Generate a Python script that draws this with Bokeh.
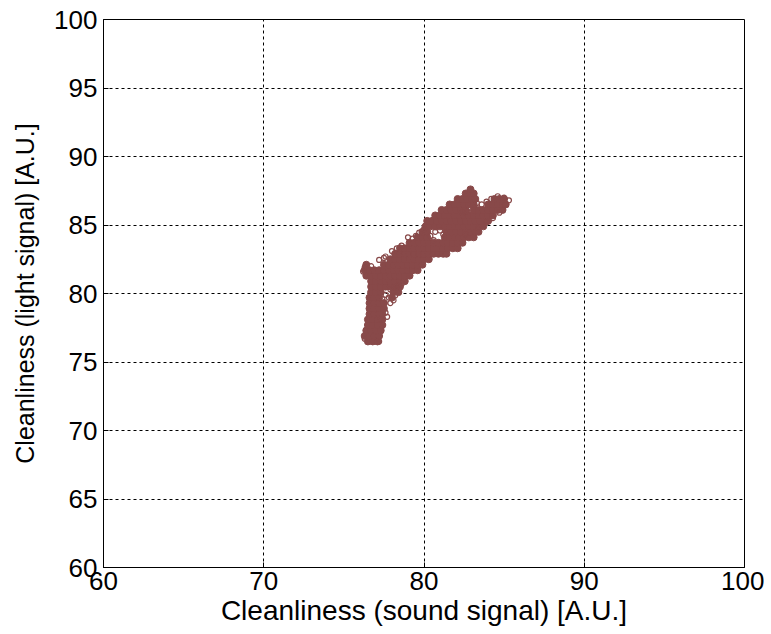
from bokeh.plotting import figure
from bokeh.models import Range1d, FixedTicker
from bokeh.embed import file_html
from bokeh.resources import INLINE

# ---- data ----
x_ticks = [60, 70, 80, 90, 100]
y_ticks = [60, 65, 70, 75, 80, 85, 90, 95, 100]

# dense core of the cloud, row by row (y value, x values)
core_row_y = [76.5, 76.9, 77.3, 77.7, 78.1, 78.5, 78.9, 79.3, 79.7, 80.1,
              80.5, 80.9, 81.3, 81.7, 82.1, 82.5, 82.9, 83.3, 83.7, 84.1,
              84.5, 84.9, 85.3, 85.7, 86.1, 86.5, 86.9, 87.3, 87.6]
core_row_x = [
    [76.5, 76.8, 77.1],
    [76.3, 76.6, 76.9, 77.2],
    [76.4, 76.7, 77.0, 77.3],
    [76.5, 76.8, 77.1, 77.4],
    [76.5, 76.8, 77.1, 77.4],
    [76.6, 76.9, 77.2, 77.4],
    [76.6, 76.9, 77.2, 77.5],
    [76.6, 76.9, 77.2, 77.5],
    [76.6, 76.9, 77.2, 78.0],
    [76.7, 77.0, 77.3, 78.1, 78.4],
    [76.7, 77.0, 77.3, 77.6, 77.9, 78.2, 78.5],
    [76.7, 77.0, 77.3, 77.6, 77.9, 78.2, 78.5, 78.8],
    [76.4, 76.7, 77.0, 77.3, 77.6, 77.9, 78.2, 78.5, 78.8, 79.1],
    [76.3, 76.6, 76.9, 77.2, 77.5, 77.8, 78.1, 78.4, 78.7, 79.0, 79.3, 79.6],
    [76.4, 77.5, 77.8, 78.1, 78.4, 78.7, 79.0, 79.3, 79.6, 79.9],
    [77.9, 78.2, 78.5, 78.8, 79.1, 79.4, 79.7, 80.0, 80.3],
    [78.2, 78.5, 78.8, 79.1, 79.4, 79.7, 80.0, 80.3, 80.6, 80.9, 81.2, 81.4],
    [78.5, 78.8, 79.1, 79.4, 79.7, 80.0, 80.3, 80.6, 80.9, 81.2, 81.5, 81.8, 82.1],
    [79.1, 79.4, 79.7, 80.0, 80.3, 80.6, 80.9, 81.2, 81.5, 81.8, 82.1, 82.4],
    [79.6, 79.9, 80.2, 81.3, 81.6, 81.9, 82.2, 82.5, 82.8, 83.1],
    [79.9, 80.2, 81.4, 81.7, 82.0, 82.3, 82.6, 82.9, 83.2, 83.4],
    [80.1, 80.4, 80.7, 81.0, 81.3, 81.6, 81.9, 82.2, 82.5, 82.8, 83.1, 83.4, 83.7],
    [80.2, 80.5, 80.8, 81.1, 81.4, 81.7, 82.0, 82.3, 82.6, 82.9, 83.2, 83.5, 83.8, 84.0],
    [80.7, 81.0, 81.3, 81.6, 81.9, 82.2, 82.5, 82.8, 83.1, 83.4, 83.7, 84.0, 84.3],
    [81.1, 81.4, 81.7, 82.0, 82.3, 82.6, 83.1, 83.4, 83.7, 84.0, 84.3, 84.6, 84.9],
    [81.6, 81.9, 82.2, 82.5, 82.8, 83.1, 84.0, 84.3, 84.6, 84.9, 85.1],
    [82.1, 82.4, 82.7, 83.0, 83.2, 84.4, 84.7, 85.0],
    [82.6, 82.9, 83.1],
    [82.9],
]

# sparse, open-looking points around the edges of the cloud
edge_x = [76.7, 77.2, 77.5, 77.6, 78.0, 78.3, 78.6, 79.0, 79.3, 79.5, 79.7, 80.0,
          78.4, 78.2, 77.9, 77.8, 77.4, 77.3, 77.6, 77.6, 78.1, 77.7,
          80.4, 80.6, 80.7, 81.0, 81.2,
          82.4, 82.7, 83.3, 83.6, 83.9, 84.2, 84.6, 85.0, 85.3,
          83.9, 84.3, 84.7, 76.3, 77.2, 77.9, 78.3, 78.6,
          76.2, 76.3, 82.6, 83.4]
edge_y = [82.0, 82.45, 82.6, 82.7, 83.1, 83.3, 83.5, 84.1, 84.0, 84.2, 84.45, 84.7,
          80.6, 79.85, 79.3, 79.7, 79.6, 78.1, 78.6, 79.9, 79.5, 78.3,
          84.2, 83.9, 84.5, 84.6, 84.3,
          85.9, 86.0, 86.6, 86.5, 86.7, 86.9, 87.1, 87.0, 86.8,
          85.2, 85.5, 85.9, 76.7, 76.5, 80.3, 80.5, 80.7,
          81.6, 81.9, 84.3, 84.8]

core_x = [x for xs in core_row_x for x in xs]
core_y = [y for y, xs in zip(core_row_y, core_row_x) for _ in xs]

MARK = "#884949"
FONT = "Liberation Sans"

p = figure(frame_width=641, frame_height=548,
           x_range=Range1d(60, 100), y_range=Range1d(60, 100),
           output_backend="svg", toolbar_location=None,
           min_border_left=103, min_border_right=20,
           min_border_top=19, min_border_bottom=55,
           background_fill_color="white", border_fill_color="white")

p.scatter(core_x, core_y, marker="circle", size=7,
          fill_color=MARK, line_color=MARK, line_width=1)
p.scatter(edge_x, edge_y, marker="circle", size=5,
          fill_color=None, line_color=MARK, line_width=1.2)

p.xaxis.ticker = FixedTicker(ticks=x_ticks)
p.yaxis.ticker = FixedTicker(ticks=y_ticks)

for ax in (p.xaxis[0], p.yaxis[0]):
    ax.major_tick_in = 5
    ax.major_tick_out = 0
    ax.minor_tick_line_color = None
    ax.axis_line_color = "black"
    ax.major_tick_line_color = "black"
    ax.major_label_text_font = FONT
    ax.major_label_text_font_size = "26px"
    ax.major_label_text_color = "black"
    ax.axis_label_text_font = FONT
    ax.axis_label_text_font_style = "normal"
    ax.axis_label_text_color = "black"

p.xaxis.axis_label = "Cleanliness (sound signal) [A.U.]"
p.yaxis.axis_label = "Cleanliness (light signal) [A.U.]"
p.xaxis.axis_label_text_font_size = "28px"
p.yaxis.axis_label_text_font_size = "25px"
p.xaxis.major_label_standoff = 4
p.xaxis.axis_label_standoff = 2
p.yaxis.major_label_standoff = 6
p.yaxis.axis_label_standoff = 12

p.xgrid.grid_line_color = "black"
p.ygrid.grid_line_color = "black"
p.xgrid.grid_line_dash = "3 3"
p.ygrid.grid_line_dash = "3 3"
p.xgrid.grid_line_width = 1
p.ygrid.grid_line_width = 1

p.outline_line_color = "black"
p.outline_line_width = 1
p.outline_line_alpha = 1

open("out.html", "w").write(file_html(p, INLINE))
